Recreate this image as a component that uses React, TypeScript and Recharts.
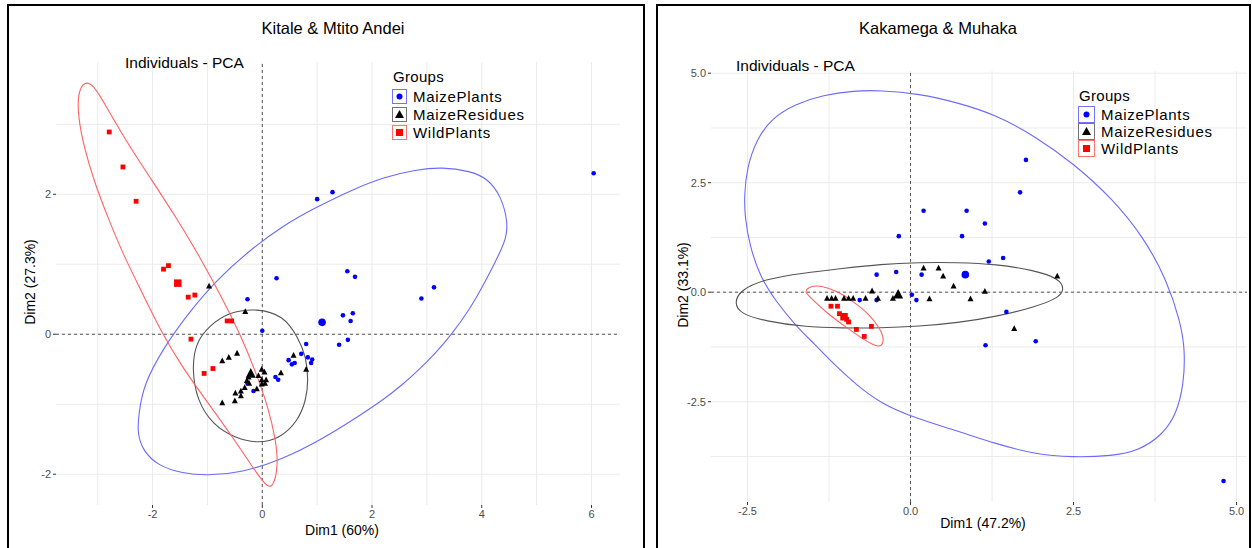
import React from 'react';
import { ScatterChart, Scatter, XAxis, YAxis, CartesianGrid, ReferenceLine } from 'recharts';

const FONT = '"Liberation Sans", Arial, Helvetica, sans-serif';

type Pt = { x: number; y: number };
const toPts = (a: number[][]): Pt[] => a.map(([x, y]) => ({ x, y }));

// ---- Kitale & Mtito Andei (left) ----
const kmMaizePlants = toPts([
  [1.0, 1.93], [1.28, 2.03], [6.04, 2.3], [0.26, 0.8], [1.55, 0.9], [1.69, 0.82], [2.9, 0.51],
  [3.13, 0.67], [1.47, 0.27], [1.65, 0.3], [1.61, 0.19], [0.0, 0.05], [1.4, -0.15], [1.56, -0.08],
  [0.8, -0.14], [0.71, -0.28], [0.83, -0.33], [0.91, -0.36], [0.89, -0.41], [0.48, -0.37],
  [0.54, -0.43], [0.59, -0.41], [0.24, -0.61], [0.29, -0.65], [-0.16, -0.81], [-0.27, 0.5], [-0.27, -0.7],
]);
const kmMaizeResidues = toPts([
  [-0.97, 0.69], [-0.31, 0.325], [-0.73, -0.38], [-0.61, -0.33], [-0.46, -0.27], [-0.25, -0.61],
  [-0.28, -0.66], [-0.24, -0.7], [-0.32, -0.76], [-0.39, -0.81], [-0.49, -0.84], [-0.39, -0.88],
  [-0.5, -0.95], [-0.73, -0.98], [-0.01, -0.5], [-0.07, -0.59], [0.04, -0.54], [-0.01, -0.65],
  [0.07, -0.65], [0.05, -0.7], [-0.01, -0.71], [0.34, -0.55], [0.57, -0.3], [0.8, -0.5], [-0.1, -0.78],
]);
const kmWildPlants = toPts([
  [-2.79, 2.89], [-2.54, 2.39], [-2.3, 1.9], [-1.8, 0.93], [-1.71, 0.98], [-1.35, 0.53],
  [-1.23, 0.56], [-1.3, -0.07], [-0.64, 0.19], [-0.56, 0.19], [-1.06, -0.56], [-0.9, -0.49],
]);
const kmCentroids = {
  plants: toPts([[1.09, 0.17]]),
  residues: toPts([[-0.21, -0.56]]),
  wild: toPts([[-1.54, 0.73]]),
};
const kmEllPlants = toPts([
  [-2.25, -1.12], [-2.16, -0.72], [-1.82, -0.22], [-1.37, 0.28], [-0.83, 0.78], [-0.23, 1.2],
  [0.39, 1.56], [1.0, 1.82], [1.62, 2.06], [2.24, 2.25], [2.79, 2.35], [3.28, 2.39], [3.79, 2.33],
  [4.1, 2.23], [4.36, 1.97], [4.48, 1.58], [4.44, 1.37], [4.34, 1.18], [4.08, 0.77], [3.77, 0.34],
  [3.46, 0.01], [3.15, -0.28], [2.85, -0.51], [2.54, -0.73], [2.23, -0.92], [1.78, -1.16],
  [1.07, -1.51], [0.33, -1.8], [-0.4, -1.98], [-1.01, -2.02], [-1.45, -1.99], [-1.9, -1.88],
  [-2.17, -1.67], [-2.28, -1.42],
]);
const kmEllResidues = toPts([
  [-0.1, 0.37], [0.38, 0.27], [0.65, -0.04], [0.8, -0.32], [0.84, -0.66], [0.8, -0.94],
  [0.65, -1.24], [0.32, -1.49], [-0.07, -1.56], [-0.48, -1.49], [-0.91, -1.29], [-1.19, -0.94],
  [-1.28, -0.51], [-1.22, -0.13], [-0.97, 0.12], [-0.6, 0.32],
]);
const kmEllWild = toPts([
  [-3.25, 3.62], [-3.36, 3.44], [-3.36, 3.12], [-3.25, 2.67], [-3.06, 2.17], [-2.79, 1.62],
  [-2.53, 1.13], [-2.18, 0.58], [-1.84, 0.03], [-1.46, -0.47], [-1.0, -0.97], [-0.54, -1.47],
  [-0.16, -1.92], [0.07, -2.17], [0.2, -2.2], [0.29, -1.87], [0.25, -1.52], [0.1, -1.02],
  [-0.13, -0.52], [-0.39, -0.02], [-0.74, 0.53], [-1.12, 1.08], [-1.57, 1.67], [-2.03, 2.22],
  [-2.49, 2.77], [-2.87, 3.29], [-3.07, 3.56],
]);

// ---- Kakamega & Muhaka (right) ----
const kmhMaizePlants = toPts([
  [1.77, 3.02], [1.68, 2.28], [0.2, 1.86], [0.86, 1.86], [1.14, 1.57], [-0.18, 1.28], [0.79, 1.28],
  [1.42, 0.78], [1.2, 0.7], [-0.22, 0.46], [-0.52, 0.4], [0.17, 0.4], [-0.78, -0.18], [-0.52, -0.18],
  [0.02, -0.06], [0.09, -0.18], [1.47, -0.45], [1.15, -1.21], [1.92, -1.12], [4.8, -4.31],
]);
const kmhMaizeResidues = toPts([
  [-1.28, -0.14], [-1.21, -0.14], [-1.15, -0.14], [-1.02, -0.14], [-0.95, -0.14], [-0.88, -0.14],
  [-0.69, -0.14], [-0.59, 0.03], [-0.5, -0.14], [-0.27, -0.14], [0.29, -0.15], [0.92, -0.15],
  [0.2, 0.55], [0.43, 0.55], [0.5, 0.37], [0.66, 0.14], [1.14, 0.02], [2.25, 0.37], [1.59, -0.83],
]);
const kmhWildPlants = toPts([
  [-1.22, -0.32], [-1.12, -0.32], [-1.09, -0.49], [-0.98, -0.62], [-0.95, -0.68], [-0.83, -0.85],
  [-0.6, -0.78], [-0.71, -1.01],
]);
const kmhCentroids = {
  plants: toPts([[0.84, 0.4]]),
  residues: toPts([[-0.19, -0.05]]),
  wild: toPts([[-1.02, -0.56]]),
};
const kmhEllPlants = toPts([
  [-2.55, 2.2], [-2.51, 2.84], [-2.36, 3.49], [-2.13, 3.97], [-1.76, 4.3], [-1.34, 4.5],
  [-0.87, 4.6], [-0.46, 4.61], [0.13, 4.53], [0.72, 4.33], [1.31, 4.05], [1.9, 3.57], [2.5, 2.94],
  [3.1, 2.13], [3.58, 1.24], [3.93, 0.28], [4.14, -0.68], [4.21, -1.32], [4.19, -2.11],
  [4.08, -2.77], [3.87, -3.25], [3.5, -3.62], [3.08, -3.74], [2.49, -3.77], [1.9, -3.7],
  [1.31, -3.46], [0.72, -3.17], [0.02, -2.85], [-0.46, -2.53], [-0.82, -2.13], [-1.18, -1.64],
  [-1.48, -1.17], [-1.74, -0.8], [-2.07, -0.2], [-2.31, 0.36], [-2.47, 1.08], [-2.54, 1.72],
]);
const kmhEllResidues = toPts([
  [-2.71, -0.24], [-2.6, 0.06], [-2.23, 0.3], [-1.64, 0.44], [-1.05, 0.54], [-0.46, 0.64],
  [0.13, 0.68], [0.72, 0.68], [1.31, 0.64], [1.9, 0.5], [2.28, 0.31], [2.36, 0.08], [2.28, -0.13],
  [1.9, -0.34], [1.31, -0.56], [0.72, -0.7], [0.13, -0.78], [-0.46, -0.82], [-1.05, -0.82],
  [-1.64, -0.79], [-2.23, -0.66], [-2.6, -0.5],
]);
const kmhEllWild = toPts([
  [-1.59, 0.08], [-1.5, 0.15], [-1.36, 0.14], [-1.13, 0.03], [-0.88, -0.21], [-0.62, -0.52],
  [-0.46, -0.85], [-0.4, -1.1], [-0.46, -1.26], [-0.58, -1.2], [-0.72, -1.08], [-0.98, -0.81],
  [-1.29, -0.47], [-1.53, -0.13], [-1.62, 0.0],
]);

const leftXTicks = [-2, 0, 2, 4, 6];
const leftYTicks = [-2, 0, 2];
const leftXGrid = [-3, -2, -1, 0, 1, 2, 3, 4, 5, 6];
const leftYGrid = [-2, -1, 0, 1, 2, 3];
const rightTicks = [-2.5, 0, 2.5, 5];
const rightXGrid = [-2.5, -1.25, 0, 1.25, 2.5, 3.75, 5];
const rightYGrid = [-3.75, -2.5, -1.25, 0, 1.25, 2.5, 3.75, 5];

const groupNames = ['MaizePlants', 'MaizeResidues', 'WildPlants'];
const groupColors = ['#0000ff', '#000000', '#ff0000'];
const ellipseColors = ['#6a6aff', '#555555', '#ff6262'];

const circle = (r: number) => (p: any) => <circle cx={p.cx} cy={p.cy} r={r} fill={groupColors[0]} />;
const triangle = (s: number) => (p: any) => (
  <polygon
    points={`${p.cx},${p.cy - s * 0.55} ${p.cx - s / 2},${p.cy + s * 0.42} ${p.cx + s / 2},${p.cy + s * 0.42}`}
    fill={groupColors[1]}
  />
);
const square = (s: number) => (p: any) => (
  <rect x={p.cx - s / 2} y={p.cy - s / 2} width={s} height={s} fill={groupColors[2]} />
);
const noDot = () => <g />;

interface PanelProps {
  left: number;
  width: number;
  margin: { top: number; right: number; bottom: number; left: number };
  xDomain: number[];
  yDomain: number[];
  xTicks: number[];
  yTicks: number[];
  xGrid: number[];
  yGrid: number[];
  fmt: (v: number) => string;
  plants: Pt[];
  residues: Pt[];
  wild: Pt[];
  centroids: { plants: Pt[]; residues: Pt[]; wild: Pt[] };
  ellipses: Pt[][];
}

const tickStyle = { fontSize: 11, fill: '#4d4d4d', fontFamily: FONT };

const PcaPanel: React.FC<PanelProps> = (c) => (
  <div style={{ position: 'absolute', left: c.left, top: 0 }}>
    <ScatterChart width={c.width} height={548} margin={c.margin}>
      <CartesianGrid stroke="#ebebeb" verticalValues={c.xGrid} horizontalValues={c.yGrid} />
      <XAxis
        type="number"
        dataKey="x"
        domain={c.xDomain}
        ticks={c.xTicks}
        allowDataOverflow
        interval={0}
        height={30}
        axisLine={false}
        tickSize={3}
        tickLine={{ stroke: '#333' }}
        tick={tickStyle}
        tickFormatter={c.fmt}
      />
      <YAxis
        type="number"
        dataKey="y"
        domain={c.yDomain}
        ticks={c.yTicks}
        allowDataOverflow
        interval={0}
        width={30}
        axisLine={false}
        tickSize={3}
        tickLine={{ stroke: '#333' }}
        tick={tickStyle}
        tickFormatter={c.fmt}
      />
      <ReferenceLine x={0} stroke="#555" strokeDasharray="3 3" />
      <ReferenceLine y={0} stroke="#555" strokeDasharray="3 3" />
      {c.ellipses.map((e, i) => (
        <Scatter
          key={`ell-${i}`}
          data={e}
          shape={noDot}
          line={{ stroke: ellipseColors[i], strokeWidth: 1.1 }}
          lineType="joint"
          lineJointType="basisClosed"
          isAnimationActive={false}
        />
      ))}
      <Scatter data={c.plants} shape={circle(2.3)} isAnimationActive={false} />
      <Scatter data={c.residues} shape={triangle(6)} isAnimationActive={false} />
      <Scatter data={c.wild} shape={square(4.8)} isAnimationActive={false} />
      <Scatter data={c.centroids.plants} shape={circle(3.8)} isAnimationActive={false} />
      <Scatter data={c.centroids.residues} shape={triangle(10)} isAnimationActive={false} />
      <Scatter data={c.centroids.wild} shape={square(7.5)} isAnimationActive={false} />
    </ScatterChart>
  </div>
);

const Label: React.FC<{ x: number; y: number; size: number; text: string; center?: boolean; rotate?: boolean }> = ({
  x, y, size, text, center, rotate,
}) => (
  <div
    style={{
      position: 'absolute',
      left: x,
      top: y,
      fontFamily: FONT,
      fontSize: size,
      lineHeight: 1,
      whiteSpace: 'nowrap',
      color: '#000',
      transform: `translate(${center ? '-50%' : '0'}, -50%)${rotate ? ' rotate(-90deg)' : ''}`,
    }}
  >
    {text}
  </div>
);

const GroupLegend: React.FC<{ left: number; top: number; box: number; row: number; head: number }> = ({
  left, top, box, row, head,
}) => (
  <div style={{ position: 'absolute', left, top, fontFamily: FONT, fontSize: 15, color: '#000' }}>
    <div style={{ height: head, lineHeight: `${head}px`, paddingLeft: 1, letterSpacing: 0.3 }}>Groups</div>
    {groupNames.map((name, i) => (
      <div key={name} style={{ display: 'flex', alignItems: 'center', height: row }}>
        <svg width={box} height={box} style={{ display: 'block' }}>
          <rect x={0.5} y={0.5} width={box - 1} height={box - 1} fill="#fff" stroke={groupColors[i]} strokeOpacity={0.55} />
          {i === 0 && <circle cx={box / 2} cy={box / 2} r={3} fill={groupColors[0]} />}
          {i === 1 && (
            <polygon
              points={`${box / 2},${box / 2 - 4.5} ${box / 2 - 4.5},${box / 2 + 3.5} ${box / 2 + 4.5},${box / 2 + 3.5}`}
              fill={groupColors[1]}
            />
          )}
          {i === 2 && <rect x={box / 2 - 3.5} y={box / 2 - 3.5} width={7} height={7} fill={groupColors[2]} />}
        </svg>
        <span style={{ marginLeft: 6, letterSpacing: 0.7 }}>{name}</span>
      </div>
    ))}
  </div>
);

const App: React.FC = () => (
  <div style={{ position: 'absolute', left: 0, top: 0, width: 1252, height: 548, overflow: 'hidden', background: '#fff' }}>
    <div style={{ position: 'absolute', left: 7, top: 4, width: 638, height: 600, border: '2px solid #000', boxSizing: 'border-box' }} />
    <div style={{ position: 'absolute', left: 656, top: 4, width: 595, height: 600, border: '2px solid #000', boxSizing: 'border-box' }} />

    <PcaPanel
      left={0}
      width={645}
      margin={{ top: 62, right: 25, bottom: 13, left: 26 }}
      xDomain={[-3.76, 6.52]}
      yDomain={[-2.44, 3.89]}
      xTicks={leftXTicks}
      yTicks={leftYTicks}
      xGrid={leftXGrid}
      yGrid={leftYGrid}
      fmt={(v) => String(v)}
      plants={kmMaizePlants}
      residues={kmMaizeResidues}
      wild={kmWildPlants}
      centroids={kmCentroids}
      ellipses={[kmEllPlants, kmEllResidues, kmEllWild]}
    />
    <PcaPanel
      left={657}
      width={595}
      margin={{ top: 71, right: 5, bottom: 16, left: 24 }}
      xDomain={[-3.06, 5.16]}
      yDomain={[-4.79, 5.05]}
      xTicks={rightTicks}
      yTicks={rightTicks}
      xGrid={rightXGrid}
      yGrid={rightYGrid}
      fmt={(v) => v.toFixed(1)}
      plants={kmhMaizePlants}
      residues={kmhMaizeResidues}
      wild={kmhWildPlants}
      centroids={kmhCentroids}
      ellipses={[kmhEllPlants, kmhEllResidues, kmhEllWild]}
    />

    <Label x={333} y={28} size={16.5} text="Kitale & Mtito Andei" center />
    <Label x={125} y={63} size={15.5} text="Individuals - PCA" />
    <Label x={342} y={530} size={14} text="Dim1 (60%)" center />
    <Label x={30} y={282} size={14} text="Dim2 (27.3%)" center rotate />
    <GroupLegend left={392} top={67} box={15} row={18} head={20} />

    <Label x={938} y={28} size={16.5} text="Kakamega & Muhaka" center />
    <Label x={736} y={66} size={15.5} text="Individuals - PCA" />
    <Label x={983} y={523} size={14} text="Dim1 (47.2%)" center />
    <Label x={683} y={285} size={14} text="Dim2 (33.1%)" center rotate />
    <GroupLegend left={1078} top={85} box={17} row={17} head={21} />
  </div>
);

export default App;
